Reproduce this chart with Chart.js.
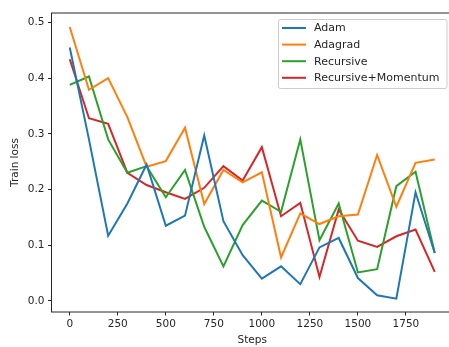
<!DOCTYPE html>
<html>
<head>
<meta charset="utf-8">
<script src="https://cdn.jsdelivr.net/npm/chart.js@4.4.1/dist/chart.umd.min.js"></script>
<style>
  html, body { margin: 0; padding: 0; background: #fff; overflow: hidden; }
  #lossChart { display: block; }
</style>
</head>
<body>
<canvas id="lossChart" width="462" height="347" style="width:462px;height:347px"></canvas>
<script>
// training steps and loss per optimizer
const steps = [0, 100, 200, 300, 400, 500, 600, 700, 800, 900, 1000, 1100, 1200, 1300, 1400, 1500, 1600, 1700, 1800, 1900];
const adam = [0.455, 0.290, 0.117, 0.175, 0.245, 0.135, 0.153, 0.297, 0.143, 0.082, 0.040, 0.062, 0.030, 0.096, 0.113, 0.041, 0.010, 0.004, 0.195, 0.086];
const adagrad = [0.492, 0.379, 0.400, 0.330, 0.241, 0.251, 0.311, 0.174, 0.235, 0.213, 0.231, 0.078, 0.157, 0.138, 0.152, 0.155, 0.262, 0.169, 0.248, 0.254];
const recursive = [0.388, 0.403, 0.290, 0.230, 0.242, 0.186, 0.235, 0.133, 0.062, 0.136, 0.180, 0.160, 0.290, 0.109, 0.175, 0.051, 0.057, 0.206, 0.232, 0.086];
const recursiveMomentum = [0.434, 0.328, 0.318, 0.230, 0.208, 0.195, 0.183, 0.203, 0.242, 0.216, 0.276, 0.152, 0.176, 0.043, 0.164, 0.108, 0.097, 0.116, 0.128, 0.052];

const xTicks = [0, 250, 500, 750, 1000, 1250, 1500, 1750];
const yTicks = [0.0, 0.1, 0.2, 0.3, 0.4, 0.5];

const seriesNames = ['Adam', 'Adagrad', 'Recursive', 'Recursive+Momentum'];
const seriesData = [adam, adagrad, recursive, recursiveMomentum];
const colors = ['#1f77b4', '#ff7f0e', '#2ca02c', '#d62728'];

const FONT = 'DejaVu Sans';
const INK = '#262626';

function toPoints(values){
  return values.map((v, i) => ({x: steps[i], y: v}));
}

// frame around the plot + legend box in the upper right
const framePlugin = {
  id: 'frame',
  afterDraw(chart){
    const ctx = chart.ctx;
    const a = chart.chartArea;
    ctx.save();
    ctx.strokeStyle = INK;
    ctx.lineWidth = 1;
    ctx.strokeRect(a.left, a.top, a.right - a.left, a.bottom - a.top);

    // legend
    const bx = 278.5, by = 19.5, bw = 168.5, bh = 69;
    ctx.beginPath();
    ctx.roundRect(bx, by, bw, bh, 2);
    ctx.fillStyle = 'rgba(255,255,255,0.8)';
    ctx.fill();
    ctx.strokeStyle = '#cccccc';
    ctx.lineWidth = 1;
    ctx.stroke();

    ctx.font = '11px "' + FONT + '"';
    ctx.textBaseline = 'middle';
    ctx.textAlign = 'left';
    chart.data.datasets.forEach((ds, i) => {
      const yy = 28 + i * 16.6;
      ctx.beginPath();
      ctx.moveTo(282, yy);
      ctx.lineTo(306, yy);
      ctx.strokeStyle = ds.borderColor;
      ctx.lineWidth = 2;
      ctx.stroke();
      ctx.fillStyle = INK;
      ctx.fillText(ds.label, 314, yy + 0.5);
    });
    ctx.restore();
  }
};

new Chart(document.getElementById('lossChart'), {
  type: 'line',
  data: {
    datasets: seriesNames.map((name, i) => ({
      label: name,
      data: toPoints(seriesData[i]),
      borderColor: colors[i],
      backgroundColor: colors[i],
      borderWidth: 2,
      pointRadius: 0,
      tension: 0,
      fill: false
    }))
  },
  options: {
    responsive: false,
    animation: false,
    devicePixelRatio: 1,
    layout: { padding: { top: 13, right: 9, left: 0, bottom: 0 } },
    plugins: {
      legend: { display: false },
      tooltip: { enabled: false }
    },
    scales: {
      x: {
        type: 'linear',
        min: -95,
        max: 1995,
        afterFit(scale){ scale.height = 35; },
        afterBuildTicks(scale){ scale.ticks = xTicks.map(v => ({value: v})); },
        border: { display: false },
        grid: { drawOnChartArea: false, drawTicks: true, tickLength: 3.5, color: INK, lineWidth: 1 },
        ticks: {
          color: INK,
          font: { family: FONT, size: 10.5 },
          padding: 2,
          maxRotation: 0,
          callback: v => String(v)
        },
        title: {
          display: true,
          text: 'Steps',
          color: INK,
          font: { family: FONT, size: 10.5 },
          padding: { top: 0, bottom: 0 }
        }
      },
      y: {
        min: -0.02,
        max: 0.517,
        afterFit(scale){ scale.width = 51.5; },
        afterBuildTicks(scale){ scale.ticks = yTicks.map(v => ({value: v})); },
        border: { display: false },
        grid: { drawOnChartArea: false, drawTicks: true, tickLength: 3.5, color: INK, lineWidth: 1 },
        ticks: {
          color: INK,
          font: { family: FONT, size: 10.5 },
          padding: 3.5,
          callback: v => v.toFixed(1)
        },
        title: {
          display: true,
          text: 'Train loss',
          color: INK,
          font: { family: FONT, size: 10.5 },
          padding: { top: 9, bottom: 0 }
        }
      }
    }
  },
  plugins: [framePlugin]
});
</script>
</body>
</html>
